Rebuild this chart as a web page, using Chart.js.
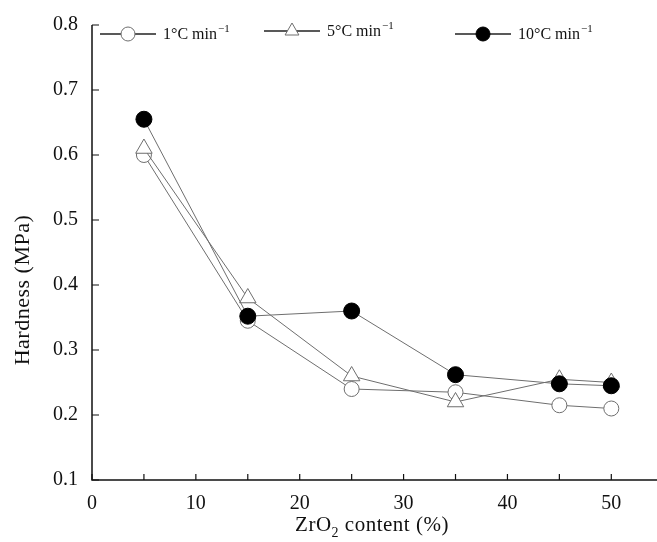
<!DOCTYPE html>
<html>
<head>
<meta charset="utf-8">
<script src="https://cdn.jsdelivr.net/npm/chart.js@4.4.1/dist/chart.umd.min.js"></script>
<style>
html, body { margin: 0; padding: 0; background: #fff; overflow: hidden; }
#wrap { width: 657px; height: 542px; }
</style>
</head>
<body>
<div id="wrap"><canvas id="myChart" width="657" height="542"></canvas></div>
<script>
// ZrO2 content (%) and hardness (MPa) for each heating rate
var zro2 = [5, 15, 25, 35, 45, 50];
var rate1 = [0.600, 0.345, 0.240, 0.235, 0.215, 0.210];
var rate5 = [0.610, 0.380, 0.260, 0.220, 0.255, 0.250];
var rate10 = [0.655, 0.352, 0.360, 0.262, 0.248, 0.245];
var seriesNames = ["1°C min", "5°C min", "10°C min"];
var xTitle = ["ZrO", "2", " content (%)"];
var yTitle = "Hardness (MPa)";

var serif = "'Liberation Serif', 'Times New Roman', serif";
var grey = "#6e6e6e";

function pts(vals) {
    return zro2.map(function (x, i) { return { x: x, y: vals[i] }; });
}

function marker(ctx, style, x, y, r, fill, stroke) {
    ctx.beginPath();
    if (style == "triangle") {
        ctx.moveTo(x, y - r);
        ctx.lineTo(x + r * 0.866, y + r * 0.5);
        ctx.lineTo(x - r * 0.866, y + r * 0.5);
        ctx.closePath();
    } else {
        ctx.arc(x, y, r, 0, Math.PI * 2);
    }
    ctx.fillStyle = fill;
    ctx.fill();
    ctx.lineWidth = 1;
    ctx.strokeStyle = stroke;
    ctx.stroke();
}

// axis lines with inward tick marks, and the two axis titles
var axesPlugin = {
    id: "axes",
    afterDraw: function (chart) {
        var ctx = chart.ctx, a = chart.chartArea;
        var xs = chart.scales.x, ys = chart.scales.y;
        ctx.save();
        ctx.strokeStyle = "#111";
        ctx.lineWidth = 1.5;
        ctx.beginPath();
        ctx.moveTo(a.left, a.top);
        ctx.lineTo(a.left, a.bottom);
        ctx.lineTo(a.right + 2, a.bottom);
        ctx.stroke();
        ctx.lineWidth = 1.2;
        ctx.beginPath();
        xs.ticks.forEach(function (t) {
            var px = xs.getPixelForValue(t.value);
            ctx.moveTo(px, a.bottom);
            ctx.lineTo(px, a.bottom - 6);
        });
        ys.ticks.forEach(function (t) {
            var py = ys.getPixelForValue(t.value);
            ctx.moveTo(a.left, py);
            ctx.lineTo(a.left + 7, py);
        });
        ctx.stroke();

        ctx.fillStyle = "#111";
        ctx.textBaseline = "alphabetic";
        ctx.textAlign = "left";
        ctx.letterSpacing = "0.5px";
        ctx.font = "21px " + serif;
        var w0 = ctx.measureText(xTitle[0]).width;
        var w2 = ctx.measureText(xTitle[2]).width;
        ctx.font = "14px " + serif;
        var w1 = ctx.measureText(xTitle[1]).width;
        var x0 = 372 - (w0 + w1 + w2) / 2;
        ctx.font = "21px " + serif;
        ctx.fillText(xTitle[0], x0, 531);
        ctx.font = "14px " + serif;
        ctx.fillText(xTitle[1], x0 + w0, 537);
        ctx.font = "21px " + serif;
        ctx.fillText(xTitle[2], x0 + w0 + w1, 531);

        ctx.font = "22px " + serif;
        ctx.translate(29, 290);
        ctx.rotate(-Math.PI / 2);
        ctx.textAlign = "center";
        ctx.fillText(yTitle, 0, 0);
        ctx.restore();
    }
};

// legend row along the top of the plot
var legendSpots = [{ x: 100, y: 34 }, { x: 264, y: 31 }, { x: 455, y: 34 }];
var legendPlugin = {
    id: "rowLegend",
    afterDraw: function (chart) {
        var ctx = chart.ctx;
        ctx.save();
        chart.data.datasets.forEach(function (ds, i) {
            var p = legendSpots[i];
            ctx.strokeStyle = "#222";
            ctx.lineWidth = 1.3;
            ctx.beginPath();
            ctx.moveTo(p.x, p.y);
            ctx.lineTo(p.x + 56, p.y);
            ctx.stroke();
            marker(ctx, ds.pointStyle, p.x + 28, p.y, ds.pointStyle == "triangle" ? 8 : 7,
                ds.pointBackgroundColor, ds.pointBorderColor);
            ctx.fillStyle = "#111";
            ctx.textAlign = "left";
            ctx.textBaseline = "alphabetic";
            ctx.font = "16px " + serif;
            var tx = p.x + 63;
            ctx.fillText(ds.label, tx, p.y + 5);
            var w = ctx.measureText(ds.label).width;
            ctx.font = "11px " + serif;
            ctx.fillText("\u22121", tx + w + 1, p.y - 2);
        });
        ctx.restore();
    }
};

new Chart("myChart", {
    type: "line",
    data: {
        datasets: [{
            label: seriesNames[0],
            data: pts(rate1),
            borderColor: grey,
            borderWidth: 1,
            pointStyle: "circle",
            pointRadius: 7.5,
            pointBackgroundColor: "#fff",
            pointBorderColor: grey,
            pointBorderWidth: 1,
            clip: false,
            order: 2
        }, {
            label: seriesNames[1],
            data: pts(rate5),
            borderColor: grey,
            borderWidth: 1,
            pointStyle: "triangle",
            pointRadius: 9.5,
            pointBackgroundColor: "#fff",
            pointBorderColor: grey,
            pointBorderWidth: 1,
            clip: false,
            order: 1
        }, {
            label: seriesNames[2],
            data: pts(rate10),
            borderColor: grey,
            borderWidth: 1,
            pointStyle: "circle",
            pointRadius: 8,
            pointBackgroundColor: "#000",
            pointBorderColor: "#000",
            pointBorderWidth: 1,
            clip: false,
            order: 0
        }]
    },
    options: {
        responsive: false,
        animation: false,
        devicePixelRatio: 1,
        layout: { autoPadding: false, padding: { top: 25, right: 0, left: 0, bottom: 0 } },
        elements: { line: { tension: 0 } },
        plugins: { legend: { display: false }, tooltip: { enabled: false } },
        scales: {
            x: {
                type: "linear",
                min: 0,
                max: 54.4,
                afterFit: function (s) { s.height = 62; s.paddingLeft = 0; s.paddingRight = 0; },
                grid: { display: false },
                border: { display: false },
                ticks: {
                    stepSize: 5,
                    includeBounds: false,
                    autoSkip: false,
                    maxRotation: 0,
                    padding: 4,
                    color: "#111",
                    font: { family: serif, size: 20 },
                    callback: function (v) { return v % 10 === 0 ? v : ""; }
                }
            },
            y: {
                min: 0.1,
                max: 0.8,
                afterFit: function (s) { s.width = 92; },
                grid: { display: false },
                border: { display: false },
                ticks: {
                    stepSize: 0.1,
                    padding: 6,
                    color: "#111",
                    font: { family: serif, size: 20 },
                    callback: function (v) { return v.toFixed(1); }
                }
            }
        }
    },
    plugins: [axesPlugin, legendPlugin]
});
</script>
</body>
</html>
